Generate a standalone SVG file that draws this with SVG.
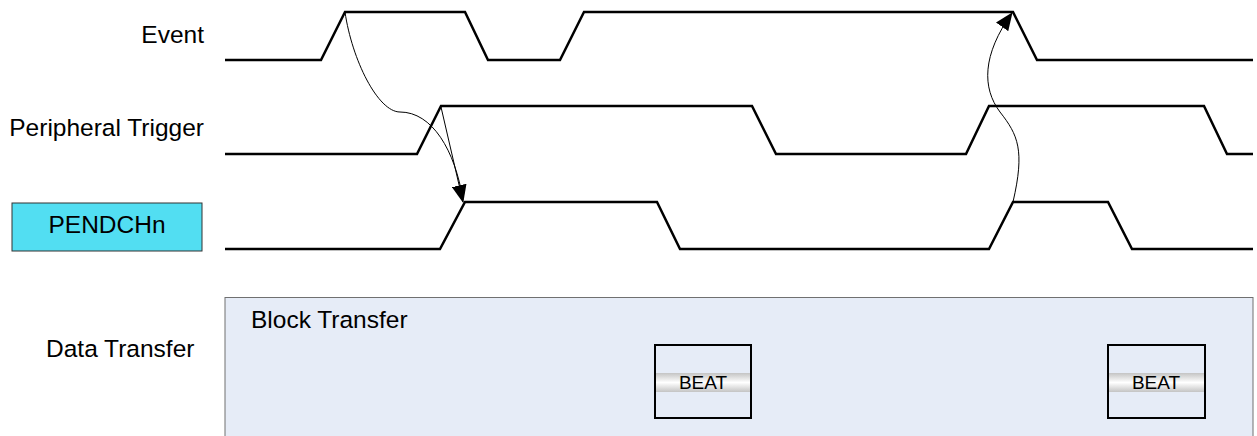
<svg xmlns="http://www.w3.org/2000/svg" width="1257" height="436" viewBox="0 0 1257 436">
<style>
.wave{fill:none;stroke:#000;stroke-width:2.5;stroke-linejoin:miter}
.lbl{font-family:"Liberation Sans",Arial,sans-serif;font-size:24.5px;fill:#000}
.beat{font-family:"Liberation Sans",Arial,sans-serif;font-size:19px;fill:#000}
.conn{fill:none;stroke:#000;stroke-width:1}
</style>
<defs>
<marker id="ah" viewBox="0 0 18 15" refX="17" refY="7.5" markerWidth="18" markerHeight="15" markerUnits="userSpaceOnUse" orient="auto">
<path d="M0,0 L18,7.5 L0,15 z" fill="#000"/>
</marker>
<linearGradient id="band" x1="0" y1="0" x2="0" y2="1">
<stop offset="0" stop-color="#c4c4c4"/>
<stop offset="0.5" stop-color="#ffffff"/>
<stop offset="1" stop-color="#c4c4c4"/>
</linearGradient>
</defs>
<rect width="1257" height="436" fill="#fff"/>
<g id="event">
<text class="lbl" x="204" y="43" text-anchor="end">Event</text>
<path class="wave" d="M225,60 L321,60 L345,12 L465,12 L488,60 L560,60 L584,12 L1013,12 L1037,60 L1253,60"/>
</g>
<g id="peripheral-trigger">
<text class="lbl" x="204" y="136" text-anchor="end">Peripheral Trigger</text>
<path class="wave" d="M225,154 L417,154 L441,106 L752,106 L776,154 L966,154 L989,106 L1204,106 L1227,154 L1253,154"/>
</g>
<g id="pendchn">
<rect x="12" y="203" width="190" height="48" fill="#52DEF2" stroke="#333" stroke-width="1"/>
<text class="lbl" x="107" y="233" text-anchor="middle">PENDCHn</text>
<path class="wave" d="M225,249 L440,249 L465,202 L657,202 L680,249 L989,249 L1013,202 L1108,202 L1132,249 L1253,249"/>
</g>
<g id="data-transfer">
<text class="lbl" x="46" y="357">Data Transfer</text>
<rect x="225" y="297.5" width="1028" height="150" fill="#E6ECF7" stroke="#707070" stroke-width="1"/>
<text class="lbl" x="251" y="328">Block Transfer</text>
</g>
<g id="beat1">
<rect x="655" y="345" width="96" height="73" fill="#E6ECF7" stroke="#000" stroke-width="2"/>
<rect x="656" y="373" width="94" height="19" fill="url(#band)"/>
<text class="beat" x="703" y="389" text-anchor="middle">BEAT</text>
</g>
<g id="beat2">
<rect x="1108" y="345" width="97" height="73" fill="#E6ECF7" stroke="#000" stroke-width="2"/>
<rect x="1109" y="373" width="95" height="19" fill="url(#band)"/>
<text class="beat" x="1156" y="389" text-anchor="middle">BEAT</text>
</g>
<g id="connectors">
<path class="conn" d="M345,12 C352,60 378,112 400,112 C432,112 455,150 463,200"/>
<path class="conn" d="M441,107 L463,202" marker-end="url(#ah)"/>
<path class="conn" d="M1013,202 C1025,150 1018,135 1000,112 C982,88 982,55 1012,13" marker-end="url(#ah)"/>
</g>
</svg>
